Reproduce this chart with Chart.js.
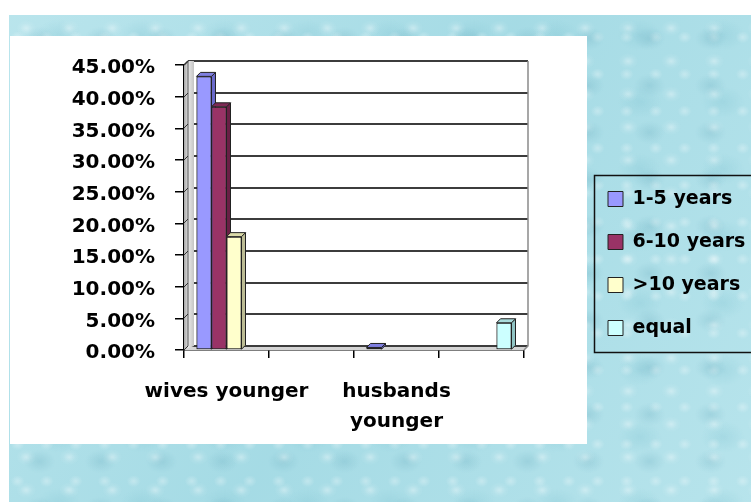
<!DOCTYPE html>
<html><head><meta charset="utf-8">
<script src="https://cdn.jsdelivr.net/npm/chart.js@4/dist/chart.umd.min.js"></script>
<style>
html,body{margin:0;padding:0;background:#fff;width:751px;height:502px;overflow:hidden;}
#tex{position:absolute;left:9px;top:15px;width:742px;height:487px;background-color:#ade0e9;
background-image:
 radial-gradient(ellipse 10px 8px at 40% 40%, rgba(255,255,255,0.35) 0, rgba(255,255,255,0.08) 60%, transparent 100%),
 radial-gradient(ellipse 16px 12px at 50% 50%, rgba(90,160,180,0.22) 0, rgba(90,160,180,0.06) 70%, transparent 100%),
 radial-gradient(ellipse 7px 6px at 30% 60%, rgba(255,255,255,0.3) 0, transparent 100%),
 radial-gradient(ellipse 22px 16px at 60% 30%, rgba(120,190,205,0.25) 0, transparent 100%),
 linear-gradient(120deg, rgba(255,255,255,0.15), rgba(120,190,205,0.15), rgba(255,255,255,0.12));
background-size:43px 33px, 61px 47px, 29px 37px, 83px 67px, 100% 100%;}
#panel{position:absolute;left:10px;top:36px;width:577px;height:408px;background:#fff;}
#wrap{position:absolute;left:0;top:0;width:751px;height:502px;}
</style></head>
<body>
<div id="tex"></div><div id="panel"></div>
<div id="wrap"><canvas id="c" width="751" height="502"></canvas></div>
<script>
const categories = ["wives younger", "", ["husbands", "younger"], ""];
const seriesNames = ["1-5 years", "6-10 years", ">10 years", "equal"];
const years1to5 = [43.2, 0, 0.4, 0];
const years6to10 = [38.4, 0, 0, 0];
const yearsOver10 = [17.9, 0, 0, 0];
const equalAge = [0, 0, 0, 4.3];
const yMin = 0, yMax = 45, yStep = 5;

const frontColors = ["#9999FF", "#993366", "#FFFFCC", "#CCFFFF"];
const sideColors = ["#6a6acc", "#6a1f45", "#bdbd95", "#90c4c4"];
const topColors = ["#7f7fe0", "#7d2954", "#dadaa8", "#aadcdc"];
const DX = 4, DY = 4;
const FONT = "'DejaVu Sans', sans-serif";

const threeD = {
  id: 'threeD',
  afterLayout(chart) {
    const L = chart.legend;
    if (L) { L.left = 584; L.right = 760; L.top = 165; L.bottom = 362; }
  },
  beforeDatasetsDraw(chart) {
    const {ctx, chartArea: a, scales: {y}} = chart;
    ctx.save();
    ctx.beginPath();
    ctx.moveTo(a.left, a.bottom); ctx.lineTo(a.right, a.bottom);
    ctx.lineTo(a.right + DX, a.bottom - DY); ctx.lineTo(a.left + DX, a.bottom - DY);
    ctx.closePath(); ctx.fillStyle = '#d4d4d4'; ctx.fill();
    ctx.strokeStyle = '#3c3c3c'; ctx.lineWidth = 2;
    y.ticks.forEach(t => {
      const py = Math.round(y.getPixelForValue(t.value)) - DY;
      ctx.beginPath(); ctx.moveTo(a.left + DX, py); ctx.lineTo(a.right + DX, py); ctx.stroke();
    });
    ctx.strokeStyle = '#8a8a8a'; ctx.lineWidth = 1.5;
    ctx.beginPath(); ctx.moveTo(a.right + DX, a.top - DY); ctx.lineTo(a.right + DX, a.bottom - DY);
    ctx.lineTo(a.right, a.bottom); ctx.stroke();
    const g = ctx.createLinearGradient(a.left, 0, a.left + 10, 0);
    g.addColorStop(0, '#a8a8a8'); g.addColorStop(0.45, '#e6e6e6'); g.addColorStop(1, '#c4c4c4');
    ctx.beginPath();
    ctx.moveTo(a.left, a.bottom); ctx.lineTo(a.left, a.top);
    ctx.lineTo(a.left + DX, a.top - DY); ctx.lineTo(a.left + 10, a.top - DY);
    ctx.lineTo(a.left + 10, a.bottom - DY); ctx.closePath();
    ctx.fillStyle = g; ctx.fill();
    ctx.strokeStyle = '#555'; ctx.lineWidth = 1;
    ctx.beginPath(); ctx.moveTo(a.left + DX, a.top - DY); ctx.lineTo(a.left + DX, a.bottom - DY); ctx.stroke();
    ctx.strokeStyle = '#222'; ctx.lineWidth = 1.5;
    ctx.beginPath(); ctx.moveTo(a.left, a.top); ctx.lineTo(a.left + DX, a.top - DY); ctx.stroke();
    ctx.strokeStyle = '#333'; ctx.lineWidth = 1;
    y.ticks.forEach(t => {
      const py = Math.round(y.getPixelForValue(t.value));
      ctx.beginPath(); ctx.moveTo(a.left, py); ctx.lineTo(a.left + DX, py - DY); ctx.stroke();
    });
    ctx.restore();
  },
  afterDatasetsDraw(chart) {
    const {ctx} = chart;
    const items = [];
    chart.data.datasets.forEach((ds, i) => {
      const meta = chart.getDatasetMeta(i);
      meta.data.forEach((el, j) => { if (ds.data[j]) items.push({el, i}); });
    });
    items.sort((a, b) => a.el.x - b.el.x);
    ctx.save();
    items.forEach(({el, i}) => {
      el.draw(ctx, chart.chartArea);
      const p = el.getProps(['x', 'y', 'base', 'width'], true);
      const l = p.x - p.width / 2, r = p.x + p.width / 2;
      ctx.strokeStyle = '#222'; ctx.lineWidth = 1; ctx.lineJoin = 'round';
      ctx.beginPath();
      ctx.moveTo(r, p.y); ctx.lineTo(r + DX, p.y - DY); ctx.lineTo(r + DX, p.base - DY); ctx.lineTo(r, p.base);
      ctx.closePath(); ctx.fillStyle = sideColors[i]; ctx.fill(); ctx.stroke();
      ctx.beginPath();
      ctx.moveTo(l, p.y); ctx.lineTo(l + DX, p.y - DY); ctx.lineTo(r + DX, p.y - DY); ctx.lineTo(r, p.y);
      ctx.closePath(); ctx.fillStyle = topColors[i]; ctx.fill(); ctx.stroke();
    });
    ctx.restore();
  },
  afterDraw(chart) {
    const L = chart.legend;
    const ctx = chart.ctx;
    ctx.save();
    ctx.strokeStyle = '#111'; ctx.lineWidth = 1.5;
    ctx.strokeRect(L.left + 10.5, L.top + 10.5, 200, L.bottom - L.top - 20);
    ctx.restore();
  }
};

const seriesData = [years1to5, years6to10, yearsOver10, equalAge];
const datasets = seriesNames.map((name, i) => ({
  label: name,
  data: seriesData[i],
  backgroundColor: frontColors[i],
  borderColor: '#222',
  borderWidth: 1,
  borderSkipped: false,
  categoryPercentage: 0.706,
  barPercentage: 1.0
}));

new Chart(document.getElementById('c'), {
  type: 'bar',
  data: { labels: categories, datasets },
  options: {
    responsive: false,
    animation: false,
    devicePixelRatio: 1,
    layout: { padding: { left: 9, top: 65, right: 67, bottom: 52 } },
    plugins: {
      tooltip: { enabled: false },
      legend: {
        position: 'right',
        maxWidth: 160,
        labels: {
          boxWidth: 15, boxHeight: 15, padding: 24, color: '#000',
          font: { family: FONT, size: 19, weight: 'bold' }
        }
      }
    },
    scales: {
      x: {
        grid: { offset: true, drawOnChartArea: false, drawTicks: true, tickLength: 8, color: '#000', lineWidth: 1.5 },
        border: { display: true, color: '#000', width: 1.5 },
        ticks: { color: '#000', autoSkip: false, maxRotation: 0, padding: 19,
          font: { family: FONT, size: 20, weight: 'bold', lineHeight: 1.5 } },
        afterFit(s) { s.height = 100; }
      },
      y: {
        min: yMin, max: yMax,
        grid: { drawOnChartArea: false, drawTicks: true, tickLength: 9, color: '#000', lineWidth: 1.5 },
        border: { display: true, color: '#000', width: 1.5 },
        ticks: { stepSize: yStep, color: '#000', padding: 20, labelOffset: 3,
          font: { family: FONT, size: 20, weight: 'bold' },
          callback: v => v.toFixed(2) + '%' },
        afterFit(s) { s.width = 175; }
      }
    }
  },
  plugins: [threeD]
});
</script>
</body></html>
